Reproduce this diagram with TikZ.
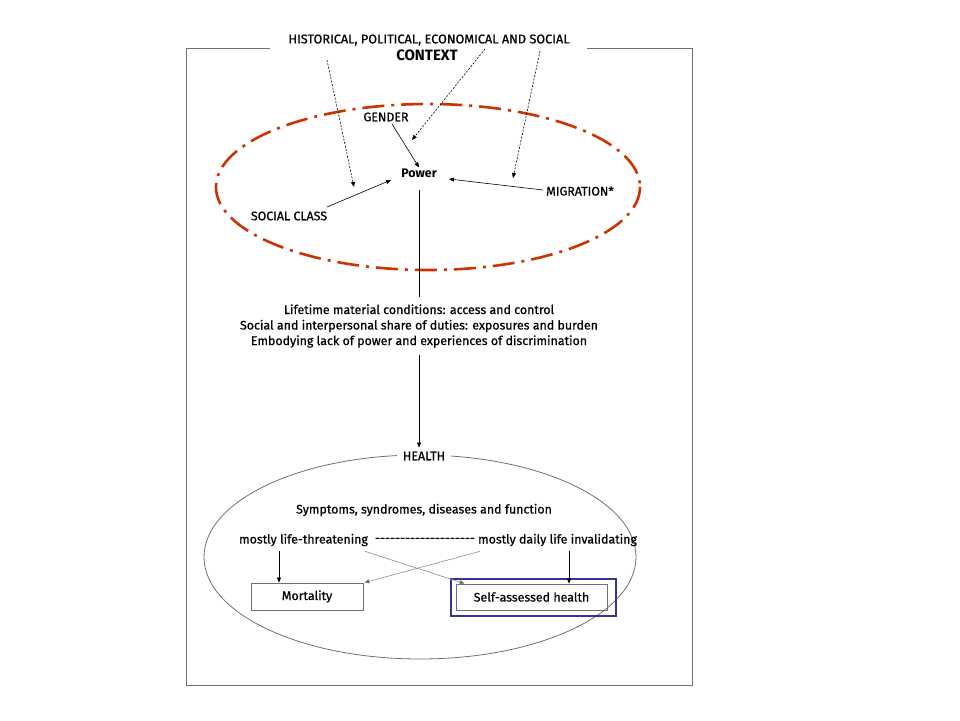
\documentclass[tikz,border=0pt]{standalone}
\usepackage{fontspec}
\setmainfont{Fira Sans}
\newfontfamily\medfont{Fira Sans}[FakeBold=0.6]
\usetikzlibrary{arrows.meta}
\definecolor{redc}{HTML}{CC3300}
\definecolor{bluec}{HTML}{333399}
\definecolor{framec}{HTML}{707070}
\begin{document}
\begin{tikzpicture}[x=1pt,y=-1pt,
  lbl/.style={font=\medfont\fontsize{12.4}{14}\selectfont, inner sep=1pt},
  bold/.style={font=\fontsize{12.4}{14}\selectfont\bfseries, inner sep=1pt},
  arr/.style={-{Triangle[length=5pt,width=4pt]}, line width=0.6pt},
  darr/.style={arr, dash pattern=on 2pt off 1.5pt},
  grayarr/.style={arr, draw=black!45, -{Triangle[length=5pt,width=4pt,fill=black!80]}},
  boxn/.style={draw=framec, line width=0.8pt, font=\medfont\fontsize{12.4}{14}\selectfont, inner sep=0pt}]
\useasboundingbox (0,0) rectangle (960,720);
% frame
\coordinate (fl) at (270,48);
\coordinate (fr) at (587,48);
\draw[framec, line width=0.9pt] (fl) -- (186,48) -- (186,685) -- (692,685) -- (692,48) -- (fr);
% title
\node[lbl, font=\medfont\fontsize{12.7}{14}\selectfont] (title) at (429,40) {HISTORICAL, POLITICAL, ECONOMICAL AND SOCIAL};
\node[bold, font=\fontsize{15}{17}\selectfont\bfseries] (context) at (427,55) {CONTEXT};
% red ellipse
\draw[redc, line width=2.6pt, dash pattern=on 22pt off 7pt on 3pt off 7pt] (428,187) ellipse [x radius=212, y radius=83];
% power cluster
\node[bold] (power) at (419,173) {Power};
\node[lbl] (gender) at (386,117) {GENDER};
\node[lbl] (social) at (289,216) {SOCIAL CLASS};
\node[lbl] (migr) at (580,191) {MIGRATION*};
\coordinate (g0) at (392,124);
\draw[arr] (g0) -- (power.north);
\coordinate (sc0) at (327,207);
\coordinate (sc1) at (391,180);
\draw[arr] (sc0) -- (sc1);
\coordinate (m0) at (543,190);
\coordinate (m1) at (449,179);
\draw[arr] (m0) -- (m1);
% dashed arrows from context
\coordinate (d1s) at (327,60); \coordinate (d1e) at (354,187);
\coordinate (d2s) at (485,49); \coordinate (d2e) at (412,140);
\coordinate (d3s) at (540,51); \coordinate (d3e) at (513,178);
\draw[darr] (d1s) -- (d1e);
\draw[darr] (d2s) -- (d2e);
\draw[darr] (d3s) -- (d3e);
% middle text
\node[lbl, align=center, font=\medfont\fontsize{12.4}{15.5}\selectfont] (mid) at (419,326)
  {Lifetime material conditions: access and control\\
   Social and interpersonal share of duties: exposures and burden\\
   Embodying lack of power and experiences of discrimination};
\coordinate (p0) at (419,190);
\draw[line width=0.6pt] (p0) -- ([yshift=6]mid.north);
% health ellipse
\draw[framec, line width=0.8pt] (420,557) ellipse [x radius=216, y radius=102];
\node[lbl, fill=white, inner xsep=6pt] (health) at (424,456) {HEALTH};
\draw[arr] ([yshift=-6]mid.south) -- ([yshift=3]health.north -| mid.south);
\node[lbl] (symp) at (424,510) {Symptoms, syndromes, diseases and function};
\node[lbl] (lt) at (303.5,540) {mostly life-threatening};
\node[lbl] (dsh) at (425,540) {{-}{-}{-}{-}{-}{-}{-}{-}{-}{-}{-}{-}{-}{-}{-}{-}{-}{-}{-}{-}};
\node[lbl] (di) at (557.5,540) {mostly daily life invalidating};
% outcome boxes
\node[boxn, minimum width=112pt, minimum height=27pt] (mort) at (307,596.5) {Mortality};
\node[boxn, minimum width=151pt, minimum height=26pt] (sah) at (531.5,597) {Self-assessed health};
\node[draw=bluec, line width=2.6pt, minimum width=165pt, minimum height=37pt, inner sep=0pt] (blue) at (533.5,597.5) {};
\coordinate (xa) at (279,0);
\coordinate (xb) at (569,0);
\draw[arr] ([yshift=-4]lt.south -| xa) -- (mort.north -| xa);
\draw[arr] ([yshift=-4]di.south -| xb) -- (sah.north -| xb);
\draw[grayarr] ([xshift=-4,yshift=-4]lt.south east) -- ([xshift=9]sah.north west);
\draw[grayarr] ([xshift=3,yshift=-4]di.south west) -- ([xshift=1]mort.north east);
\end{tikzpicture}
\end{document}
